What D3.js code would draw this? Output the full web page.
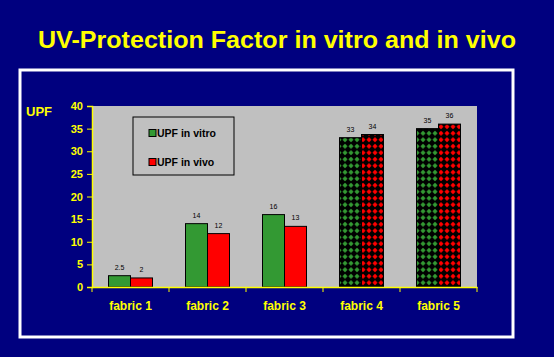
<!DOCTYPE html>
<html><head><meta charset="utf-8">
<script src="https://cdn.jsdelivr.net/npm/d3@7"></script>
<style>body{margin:0;background:#00007f;}svg{display:block;}</style>
</head><body>
<script>
const categories = ["fabric 1","fabric 2","fabric 3","fabric 4","fabric 5"];
const vitro = [2.5, 14, 16, 33, 35];
const vivo = [2, 11.8, 13.4, 33.7, 36];
const vitroLabels = ["2.5","14","16","33","35"];
const vivoLabels = ["2","12","13","34","36"];
const seriesNames = ["UPF in vitro","UPF in vivo"];
const yTicks = [0,5,10,15,20,25,30,35,40];
const patterned = [false,false,false,true,true];

const W=554,H=357;
const svg=d3.select("body").append("svg").attr("width",W).attr("height",H);
svg.append("rect").attr("width",W).attr("height",H).attr("fill","#00007f");
const defs=svg.append("defs");
function pat(id,col){
  const p=defs.append("pattern").attr("id",id).attr("patternUnits","userSpaceOnUse")
    .attr("width",6).attr("height",6.5);
  p.append("rect").attr("width",6).attr("height",6.5).attr("fill","#000");
  p.append("path").attr("d","M3,0.6 L5.6,3.25 L3,5.9 L0.4,3.25Z").attr("fill",col);
}
pat("pg","#339933");pat("pr","#ff0000");

svg.append("text").attr("x",277).attr("y",48).attr("text-anchor","middle")
  .attr("font-family","Liberation Sans, Arial, sans-serif").attr("font-weight","bold")
  .attr("font-size",24).attr("fill","#ffff00").attr("textLength",478).attr("lengthAdjust","spacingAndGlyphs")
  .text("UV-Protection Factor in vitro and in vivo");

svg.append("rect").attr("x",20).attr("y",70).attr("width",493).attr("height",267)
  .attr("fill","none").attr("stroke","#fff").attr("stroke-width",3);

const x0=d3.scaleBand().domain(categories).range([92,477]).paddingInner(0).paddingOuter(0);
const y=d3.scaleLinear().domain([0,40]).range([287,106]);
const bw=22;

svg.append("rect").attr("x",92).attr("y",106).attr("width",385).attr("height",181).attr("fill","#c0c0c0");

const g=svg.append("g");
categories.forEach((c,i)=>{
  const cx=x0(c)+x0.bandwidth()/2;
  [[vitro[i],vitroLabels[i],"#339933","pg",-bw],[vivo[i],vivoLabels[i],"#ff0000","pr",0]].forEach(([v,l,col,pid,off])=>{
    g.append("rect").attr("x",cx+off).attr("y",y(v)).attr("width",bw).attr("height",y(0)-y(v))
      .attr("fill",patterned[i]?`url(#${pid})`:col).attr("stroke","#000").attr("stroke-width",1);
    g.append("text").attr("x",cx+off+bw/2).attr("y",y(v)-6).attr("text-anchor","middle")
      .attr("font-family","Liberation Sans, Arial, sans-serif").attr("font-size",7).attr("fill","#000").text(l);
  });
});

const yAxis=svg.append("g").attr("transform","translate(92,0)")
  .call(d3.axisLeft(y).tickValues(yTicks).tickSize(5).tickPadding(4).tickFormat(d3.format("d")));
yAxis.select(".domain").attr("stroke","#ffff00").attr("stroke-width",1.5);
yAxis.selectAll(".tick line").attr("stroke","#ffff00");
yAxis.selectAll(".tick text").attr("fill","#ffff00").attr("font-family","Liberation Sans Narrow, Arial Narrow, sans-serif")
  .attr("font-weight","bold").attr("font-size",11);

const xAxis=svg.append("g").attr("transform","translate(0,287)")
  .call(d3.axisBottom(x0).tickSize(0).tickPadding(14));
xAxis.select(".domain").attr("stroke","#ffff00").attr("stroke-width",1.5);
xAxis.selectAll(".tick text").attr("fill","#ffff00").attr("font-family","Liberation Sans Narrow, Arial Narrow, sans-serif")
  .attr("font-weight","bold").attr("font-size",12);
const bounds=categories.map(c=>x0(c)+x0.bandwidth()).concat([92]);
xAxis.selectAll("line.bt").data(bounds).enter().append("line").attr("class","bt")
  .attr("x1",d=>d).attr("x2",d=>d).attr("y1",0).attr("y2",5).attr("stroke","#ffff00");

svg.append("text").attr("x",26).attr("y",116).attr("font-family","Liberation Sans, Arial, sans-serif")
  .attr("font-weight","bold").attr("font-size",13).attr("fill","#ffff00").text("UPF");

const lg=svg.append("g");
lg.append("rect").attr("x",133).attr("y",117).attr("width",101).attr("height",58).attr("fill","none").attr("stroke","#000");
seriesNames.forEach((n,i)=>{
  const yy=[133,162][i];
  lg.append("rect").attr("x",149).attr("y",yy-3.5).attr("width",7).attr("height",7)
    .attr("fill",["#339933","#ff0000"][i]).attr("stroke","#000");
  lg.append("text").attr("x",157).attr("y",yy+4).attr("font-family","Liberation Sans Narrow, Arial Narrow, sans-serif")
    .attr("font-weight","bold").attr("font-size",10.5).attr("fill","#000").text(n);
});
</script>
</body></html>
